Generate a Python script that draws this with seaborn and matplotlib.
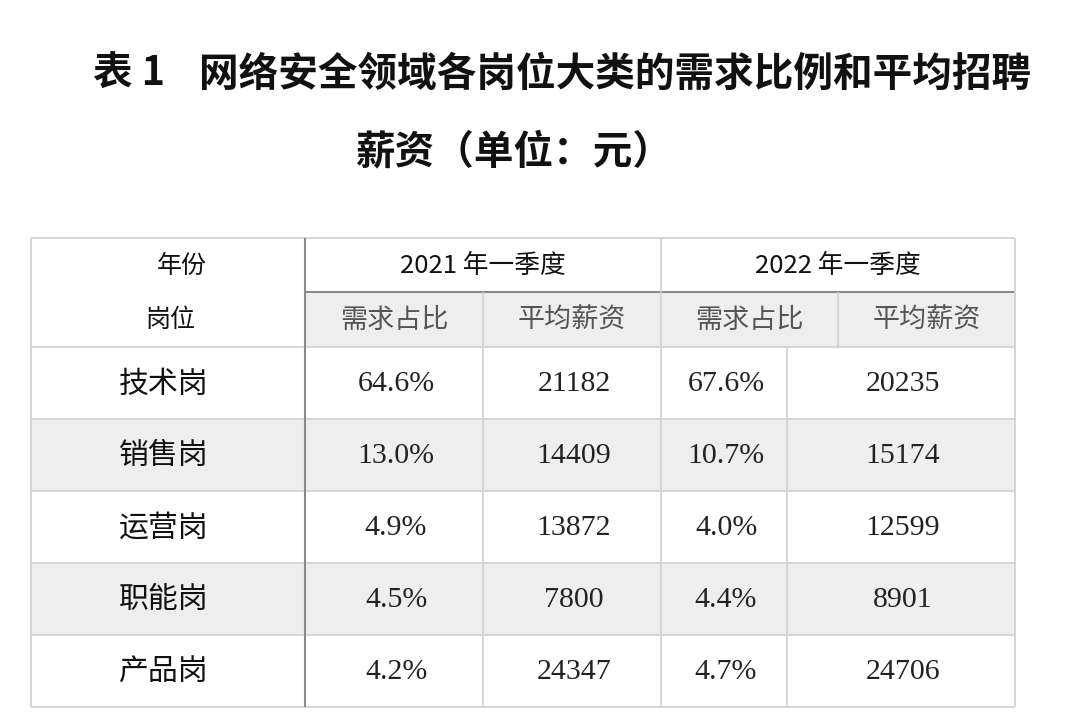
import numpy as np
import pandas as pd
import matplotlib
matplotlib.use("Agg")
import matplotlib.pyplot as plt
from matplotlib.colors import ListedColormap
from matplotlib.patches import Rectangle
import seaborn as sns

# table content
positions = ["技术岗", "销售岗", "运营岗", "职能岗", "产品岗"]
share_2021 = [64.6, 13.0, 4.9, 4.5, 4.2]
salary_2021 = [21182, 14409, 13872, 7800, 24347]
share_2022 = [67.6, 10.7, 4.0, 4.4, 4.7]
salary_2022 = [20235, 15174, 12599, 8901, 24706]
periods = ["2021 年一季度", "2022 年一季度"]
sub_headers = ["需求占比", "平均薪资"]

df = pd.DataFrame({
    "岗位": positions,
    "share_2021": share_2021,
    "salary_2021": salary_2021,
    "share_2022": share_2022,
    "salary_2022": salary_2022,
})

sns.set_theme(style="white")
plt.rcParams["font.family"] = ["Noto Sans CJK SC", "DejaVu Sans"]

W, H = 1066, 726
fig = plt.figure(figsize=(W / 100, H / 100), dpi=100)
fig.patch.set_facecolor("white")

# layout (pixels)
x_edges = [31, 305, 483, 661, 787, 1015]   # data rows
x_sub_2022 = 838                           # header split for 2022
y_top, y_h1, y_h2 = 238, 292, 347
row_h = 72
y_rows = [y_h2 + i * row_h for i in range(len(positions) + 1)]
y_bot = y_rows[-1]

LIGHT = "#cfcfcf"
DARK = "#8a8a8a"
BAND = "#eeeeee"

# zebra banding of body rows via seaborn heatmap
ax_body = fig.add_axes([x_edges[0] / W, (H - y_bot) / H,
                        (x_edges[-1] - x_edges[0]) / W, (y_bot - y_h2) / H])
band = pd.DataFrame({"band": np.arange(len(df)) % 2}, index=df["岗位"])
sns.heatmap(band, ax=ax_body, cmap=ListedColormap(["#ffffff", BAND]),
            vmin=0, vmax=1, cbar=False, xticklabels=False, yticklabels=False)
ax_body.set_xlabel("")
ax_body.set_ylabel("")

# overlay axes in pixel coords
ax = fig.add_axes([0, 0, 1, 1])
ax.set_facecolor("none")
ax.set_xlim(0, W)
ax.set_ylim(H, 0)
ax.axis("off")

# header row 2 shading
ax.add_patch(Rectangle((x_edges[1], y_h1), x_edges[-1] - x_edges[1], y_h2 - y_h1,
                       facecolor=BAND, edgecolor="none", zorder=0))

# grid lines
lw = 1.2
ax.hlines([y_top, y_bot], x_edges[0], x_edges[-1], color=LIGHT, lw=lw)
ax.hlines(y_rows[:-1], x_edges[0], x_edges[-1], color=LIGHT, lw=lw)
ax.hlines(y_h1, x_edges[1], x_edges[-1], color=DARK, lw=1.5)
ax.vlines([x_edges[0], x_edges[-1], x_edges[3]], y_top, y_bot, color=LIGHT, lw=lw)
ax.vlines(x_edges[1], y_top, y_bot, color=DARK, lw=1.5)
ax.vlines(x_edges[2], y_h1, y_bot, color=LIGHT, lw=lw)
ax.vlines(x_sub_2022, y_h1, y_h2, color=LIGHT, lw=lw)
ax.vlines(x_edges[4], y_h2, y_bot, color=LIGHT, lw=lw)

# title
ax.text(93, 74, "表 1", fontsize=28.5, fontweight="bold", color="#111111",
        ha="left", va="center")
ax.text(199, 74, "网络安全领域各岗位大类的需求比例和平均招聘", fontsize=28.5,
        fontweight="bold", color="#111111", ha="left", va="center")
ax.text(514, 152, "薪资（单位：元）", fontsize=28.5, fontweight="bold",
        color="#111111", ha="center", va="center")

# header
ax.text(182, 266, "年份", fontsize=18, color="#111111", ha="center", va="center")
ax.text(170, 320, "岗位", fontsize=18, color="#111111", ha="center", va="center")
group_spans = [(x_edges[1], x_edges[3]), (x_edges[3], x_edges[5])]
for (a, b), label in zip(group_spans, periods):
    ax.text((a + b) / 2, 266, label, fontsize=18.5, color="#111111",
            ha="center", va="center")
sub_spans = [(x_edges[1], x_edges[2]), (x_edges[2], x_edges[3]),
             (x_edges[3], x_sub_2022), (x_sub_2022, x_edges[5])]
for i, (a, b) in enumerate(sub_spans):
    ax.text((a + b) / 2, 320, sub_headers[i % 2], fontsize=19.5, color="#555555",
            ha="center", va="center")

# body
cx = [(x_edges[i] + x_edges[i + 1]) / 2 for i in range(len(x_edges) - 1)]
for r, row in df.iterrows():
    yc = (y_rows[r] + y_rows[r + 1]) / 2 + 1
    ax.text(cx[0] - 4, yc, row["岗位"], fontsize=21.5, color="#111111",
            ha="center", va="center")
    cells = [f"{row['share_2021']:.1f}%", f"{int(row['salary_2021'])}",
             f"{row['share_2022']:.1f}%", f"{int(row['salary_2022'])}"]
    for c, txt in enumerate(cells):
        ax.text(cx[c + 1] + 2, yc, txt, fontsize=21.5, color="#222222",
                family="Liberation Serif", ha="center", va="center")

fig.savefig("out.png", dpi=100)
